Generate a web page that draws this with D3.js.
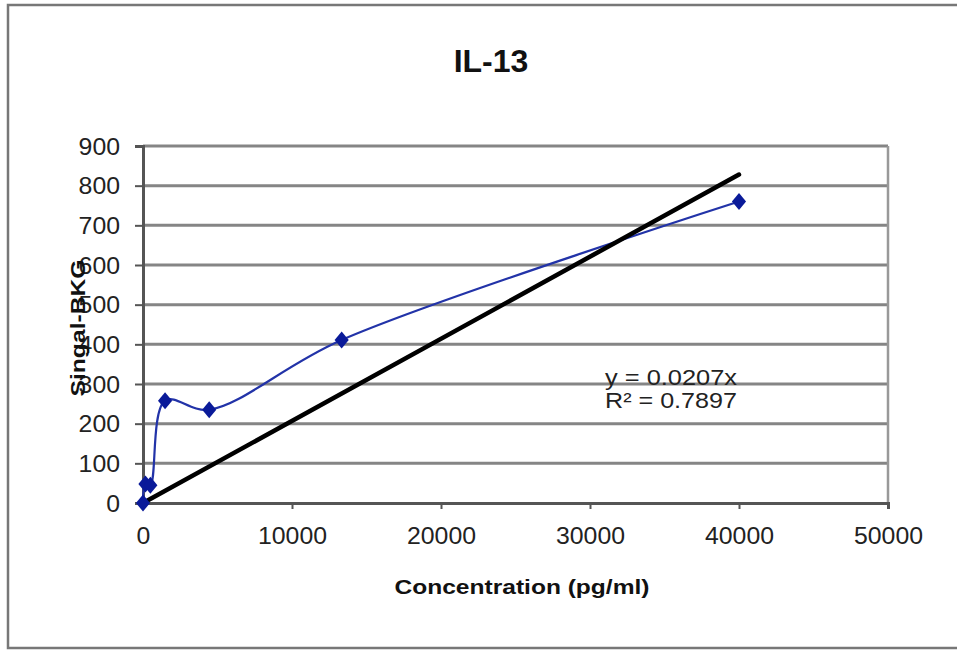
<!DOCTYPE html>
<html><head><meta charset="utf-8">
<script src="https://cdn.jsdelivr.net/npm/d3@7"></script>
<style>body{margin:0;background:#fff}svg{display:block}text{font-family:"Liberation Sans",Arial,sans-serif}</style>
</head><body><svg id="c" width="957" height="651"></svg>
<script>
const concentrations = [0, 165, 494, 1481, 4444, 13333, 40000];
const signals = [0, 48, 45, 258, 235, 411, 760];
const xTicks = [0, 10000, 20000, 30000, 40000, 50000];
const yTicks = [0, 100, 200, 300, 400, 500, 600, 700, 800, 900];
const slope = 0.0207;
const trendRange = [0, 40000];
const title = "IL-13";
const xTitle = "Concentration (pg/ml)";
const yTitle = "Singal-BKG";
const eqLines = ["y = 0.0207x", "R\u00B2 = 0.7897"];

const svg = d3.select("#c");
const L = 143, R = 888, T = 146, B = 503;
const x = d3.scaleLinear().domain([0, 50000]).range([L, R]);
const y = d3.scaleLinear().domain([0, 900]).range([B, T]);

// outer frame
svg.append("rect").attr("x", 8).attr("y", 5).attr("width", 960).attr("height", 643)
  .attr("fill", "none").attr("stroke", "#777").attr("stroke-width", 2.5);

// gridlines
svg.append("g").selectAll("line").data(yTicks.filter(d => d > 0)).join("line")
  .attr("x1", L).attr("x2", R).attr("y1", d => y(d)).attr("y2", d => y(d))
  .attr("stroke", "#858585").attr("stroke-width", 3);
// right border
svg.append("line").attr("x1", R).attr("x2", R).attr("y1", T).attr("y2", B)
  .attr("stroke", "#999").attr("stroke-width", 2.5);

// axes
const yAxis = d3.axisLeft(y).tickValues(yTicks).tickFormat(d3.format("d")).tickSize(8).tickPadding(15);
const gy = svg.append("g").attr("transform", `translate(${L},0)`).call(yAxis);
const xAxis = d3.axisBottom(x).tickValues(xTicks).tickFormat(d3.format("d")).tickSize(6).tickPadding(19);
const gx = svg.append("g").attr("transform", `translate(0,${B})`).call(xAxis);
[gx, gy].forEach(g => {
  g.select(".domain").attr("stroke", "#555").attr("stroke-width", 3);
  g.selectAll(".tick line").attr("stroke", "#555").attr("stroke-width", 2);
  g.selectAll(".tick text").attr("fill", "#222").style("font-size", "23px")
    .style("font-family", '"Liberation Sans",Arial,sans-serif')
    .attr("textLength", d => String(d).length * 13.8).attr("lengthAdjust", "spacingAndGlyphs");
});
gy.selectAll(".tick text").attr("dy", "0.35em");

// data line
const line = d3.line().x((d, i) => x(concentrations[i])).y(d => y(d)).curve(d3.curveCatmullRom.alpha(0.5));
svg.append("path").datum(signals).attr("d", line).attr("fill", "none")
  .attr("stroke", "#2233a8").attr("stroke-width", 2.2);

// trendline
svg.append("line").attr("x1", x(trendRange[0])).attr("y1", y(slope * trendRange[0]))
  .attr("x2", x(trendRange[1])).attr("y2", y(slope * trendRange[1]))
  .attr("stroke", "#000").attr("stroke-width", 4.5).attr("stroke-linecap", "round");

// markers
const sym = d3.symbol().type(d3.symbolSquare).size(100);
svg.append("g").selectAll("path").data(signals).join("path")
  .attr("d", sym)
  .attr("transform", (d, i) => `translate(${x(concentrations[i])},${y(d)}) scale(1,1.2) rotate(45)`)
  .attr("fill", "#0a1a99");

// equation
svg.append("g").selectAll("text").data(eqLines).join("text")
  .attr("x", 605).attr("y", (d, i) => 385 + i * 23)
  .attr("textLength", 132).attr("lengthAdjust", "spacingAndGlyphs")
  .style("font-size", "22px").attr("fill", "#222").text(d => d);

// titles
svg.append("text").attr("x", 491).attr("y", 72).attr("text-anchor", "middle")
  .style("font-size", "32px").style("font-weight", "bold").attr("fill", "#111").text(title);
svg.append("text").attr("x", 522).attr("y", 594).attr("text-anchor", "middle")
  .attr("textLength", 255).attr("lengthAdjust", "spacingAndGlyphs")
  .style("font-size", "21px").style("font-weight", "bold").attr("fill", "#111").text(xTitle);
svg.append("text").attr("transform", "translate(85,328) rotate(-90)").attr("text-anchor", "middle")
  .attr("textLength", 137).attr("lengthAdjust", "spacingAndGlyphs")
  .style("font-size", "21px").style("font-weight", "bold").attr("fill", "#111").text(yTitle);
</script></body></html>
